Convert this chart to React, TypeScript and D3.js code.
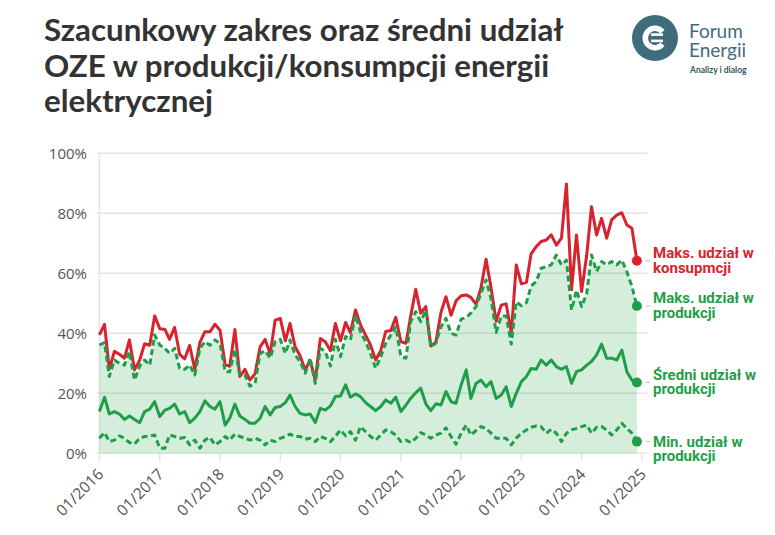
import React from "react";
import * as d3 from "d3";

const titleLines = [
  "Szacunkowy zakres oraz średni udział",
  "OZE w produkcji/konsumpcji energii",
  "elektrycznej",
];

const startMonth = new Date(2016, 0, 1);
const endMonth = new Date(2025, 0, 1);
const months = d3.timeMonth.range(startMonth, endMonth);
const yearTicks = d3.timeYear.range(startMonth, new Date(2025, 0, 2));
const yTicks = [0, 20, 40, 60, 80, 100];

const maxCons = [
  39.5, 43, 28, 34, 33, 31.7, 37.8, 27.8, 31, 36.5, 36, 45.8,
  41.5, 41.3, 38, 42, 33, 31.5, 36, 28, 37, 40.5, 40.5, 43,
  41, 29.5, 29, 41.3, 25.6, 28, 24.4, 26.5, 35.5, 38, 33, 44.4,
  45, 37.5, 43.3, 35.5, 32.5, 27.8, 31, 24.5, 38.3, 37.2, 34.2, 43.3,
  37.5, 43.6, 40.2, 47.8, 42.8, 39.4, 36.1, 31.1, 34.2, 40.6, 40.9, 45.3,
  37.2, 36.7, 45.6, 54.7, 46.7, 48.9, 35.8, 37, 47, 52.2, 46, 50.8,
  52.5, 52.8, 52, 49.7, 55, 64.7, 55.3, 44, 49.4, 49.8, 40, 62.8,
  56.5, 57, 66.5, 68.9, 70.6, 71.1, 72.8, 69.4, 71.7, 89.8, 54.5, 72.8,
  53.9, 66, 82.2, 72.8, 78.3, 71.7, 77.8, 79.4, 80.2, 76.1, 75, 64.2,
];

const maxProd = [
  36.1, 36.9, 25.6, 31.1, 30, 29.4, 33.9, 24.4, 29.1, 31.1, 29.4, 39.4,
  36.1, 35, 33.3, 35, 28.3, 28, 29.4, 26.1, 35, 37.2, 36, 37.8,
  36.7, 27.2, 27.2, 34.7, 26.1, 26.1, 22.4, 23.3, 33.3, 34.2, 31.7, 37.2,
  38, 33.3, 37.8, 32.8, 30.6, 26.7, 31.7, 23.3, 35, 33.9, 29.1, 38,
  32.2, 38.9, 37.8, 46.1, 40.6, 37.2, 33.3, 28.3, 32.2, 36.7, 39.4, 42.2,
  32.2, 31.7, 43.9, 47.2, 43.9, 47.8, 35.6, 36.7, 42.2, 45, 40, 39.4,
  44.7, 45.3, 46.7, 48.9, 53.3, 57.8, 51.6, 40.3, 45.8, 45.8, 36.4, 50.5,
  49.2, 50.3, 55.8, 57.2, 61.7, 62.2, 62.8, 66.1, 62.8, 64.4, 47.8, 54.4,
  48.9, 53.3, 66.1, 60.6, 63.9, 62.8, 63.9, 62.8, 64.4, 60.6, 55.6, 49.1,
];

const avgProd = [
  13.9, 18.7, 13.1, 13.9, 13.1, 11.3, 12.4, 11.3, 10.2, 13.9, 14.7, 17.2,
  12.2, 14.4, 15, 16.4, 13.1, 13.9, 10.2, 11.7, 13.9, 17.5, 15.6, 14.7,
  17.2, 9.4, 11.7, 16.4, 12.4, 11.3, 10, 10, 11.7, 15.6, 12.8, 15.3,
  15.6, 16.9, 19.4, 15.6, 13.3, 12.8, 13.1, 10.3, 15, 14.4, 15.8, 18.9,
  19.1, 22.8, 18.7, 19.8, 18.9, 16.9, 15.6, 14.2, 15.6, 17.8, 16.7, 18.7,
  13.9, 16.1, 18.3, 20.2, 21.7, 16.5, 14.2, 16.5, 16.1, 20.6, 17.2, 16.7,
  22.8, 27.8, 18.3, 23.3, 24.4, 22.2, 23.9, 18.3, 19.4, 22.2, 15.6, 20,
  23.9, 25.6, 28.3, 28, 31.1, 29.4, 31.1, 28.9, 28, 28.9, 23.3, 27.2,
  27.8, 29.4, 30.6, 32.8, 36.4, 31.7, 31.7, 31.1, 34.4, 27.2, 24.4, 23.6,
];

const minProd = [
  5, 6.9, 3.9, 4.4, 5.8, 5, 3.6, 3.1, 5, 5.6, 5.8, 6.1,
  1.7, 1.7, 6.1, 5.6, 5, 5.3, 2.8, 4.4, 1.7, 4.4, 5.3, 2.8,
  3.9, 5.6, 4.4, 6.4, 5.6, 5, 4.4, 5, 4.4, 2.8, 4.4, 3.9,
  5, 5.6, 6.4, 5.6, 5.6, 4.7, 5, 3.9, 5.6, 5, 3.9, 5.6,
  7.8, 5.8, 7.2, 4.4, 8.9, 7.2, 5.6, 4.4, 6.1, 7.8, 7.2, 6.1,
  3.9, 4.4, 3.6, 5, 6.9, 6.1, 5, 6.1, 6.7, 8.5, 5.6, 3,
  6.7, 9.4, 6.1, 7.6, 8.9, 8.3, 6.7, 5, 5, 5, 2.8, 5,
  6.7, 7.8, 8.7, 9.1, 8.9, 6.7, 8, 6.7, 3.9, 6.7, 7.8, 8.3,
  8.9, 9.4, 6.7, 8.7, 8.9, 7.8, 6.1, 7.8, 10, 8.3, 6.7, 3.9,
];

const RED = "#d8232f";
const GREEN = "#1f9e49";

const series = [
  { key: "maxCons", values: maxCons, color: RED, dash: null, label: ["Maks. udział w", "konsupmcji"], dy: -3 },
  { key: "maxProd", values: maxProd, color: GREEN, dash: "6 3.5", label: ["Maks. udział w", "produkcji"], dy: -3 },
  { key: "avgProd", values: avgProd, color: GREEN, dash: null, label: ["Średni udział w", "produkcji"], dy: -3 },
  { key: "minProd", values: minProd, color: GREEN, dash: "6 3.5", label: ["Min. udział w", "produkcji"], dy: 5 },
];

export default function App() {
  const W = 775;
  const H = 535;
  const x = d3.scaleTime().domain([startMonth, endMonth]).range([99.4, 642]);
  const y = d3.scaleLinear().domain([0, 100]).range([453.3, 153.3]);
  const gridLeft = 97;
  const gridRight = 647;

  const area = d3
    .area<number>()
    .x((_, i) => x(months[i]))
    .y0(() => y(0))
    .y1((d) => y(d));
  const line = d3
    .line<number>()
    .x((_, i) => x(months[i]))
    .y((d) => y(d));

  const fmt = d3.timeFormat("%m/%Y");
  const drawOrder = [3, 2, 0, 1];

  return (
    <svg width={W} height={H} style={{ position: "absolute", left: 0, top: 0, background: "#fff" }}>
      {/* title */}
      <g fontFamily="Lato, 'Open Sans', sans-serif" fontWeight={700} fontSize={31.3} fill="#333">
        {titleLines.map((t, i) => (
          <text key={i} x={44} y={41 + i * 35.5}>
            {t}
          </text>
        ))}
      </g>

      {/* logo */}
      <g>
        <circle cx={655} cy={38} r={23} fill="#3f6c7b" />
        <path
          d={d3.arc()({ innerRadius: 7, outerRadius: 12.5, startAngle: Math.PI * 0.22, endAngle: Math.PI * 1.78 }) || ""}
          transform="translate(655,38) rotate(90)"
          fill="#fff"
        />
        <rect x={651} y={33.3} width={12} height={2.6} fill="#fff" />
        <rect x={651} y={39.6} width={12} height={2.6} fill="#fff" />
        <g fontFamily="Lato, 'Open Sans', sans-serif" fill="#3f6c7b" fontSize={19}>
          <text x={689} y={38}>Forum</text>
          <text x={689} y={57}>Energii</text>
        </g>
        <text x={690} y={73} fontFamily="Lato, sans-serif" fontWeight={700} fontSize={8.5} fill="#2f5a5a">
          Analizy i dialog
        </text>
      </g>

      {/* grid */}
      {yTicks.map((t) => (
        <line key={t} x1={gridLeft} x2={gridRight} y1={y(t)} y2={y(t)} stroke="#e4e4e4" strokeWidth={1.5} />
      ))}
      <line x1={99.4} x2={99.4} y1={y(100)} y2={y(0)} stroke="#e4e4e4" strokeWidth={1.5} />
      {yearTicks.map((d, i) => (
        <line key={i} x1={x(d)} x2={x(d)} y1={y(0)} y2={y(0) + 8} stroke="#e4e4e4" strokeWidth={1.5} />
      ))}

      {/* y labels */}
      <g fontFamily="'Open Sans', sans-serif" fontSize={15} fill="#555" textAnchor="end">
        {yTicks.map((t) => (
          <text key={t} x={87} y={y(t) + 5.5}>
            {t}%
          </text>
        ))}
      </g>

      {/* x labels */}
      <g fontFamily="'Open Sans', sans-serif" fontSize={15.5} fill="#555" textAnchor="end">
        {yearTicks.map((d, i) => (
          <text key={i} transform={`translate(${x(d) + 5},${y(0) + 22}) rotate(-45)`}>
            {fmt(d)}
          </text>
        ))}
      </g>

      {/* area */}
      <path d={area(maxProd) || ""} fill="#2eaa50" fillOpacity={0.2} />

      {/* lines */}
      {drawOrder.map((si) => {
        const s = series[si];
        return (
          <path
            key={s.key}
            d={line(s.values) || ""}
            fill="none"
            stroke={s.color}
            strokeWidth={3}
            strokeDasharray={s.dash || undefined}
            strokeLinejoin="round"
          />
        );
      })}

      {/* end dots and labels */}
      {series.map((s) => {
        const lastI = s.values.length - 1;
        const cx = x(months[lastI]);
        const cy = y(s.values[lastI]);
        return (
          <g key={s.key}>
            <circle cx={cx} cy={cy} r={5} fill={s.color} />
            <line x1={cx + 9} x2={cx + 13} y1={cy} y2={cy} stroke="#bbb" strokeWidth={1} />
            <text
              x={653}
              y={cy + s.dy}
              fontFamily="Roboto, sans-serif"
              fontWeight={700}
              fontSize={15}
              fill={s.color}
            >
              <tspan x={653}>{s.label[0]}</tspan>
              <tspan x={653} dy={14.8}>
                {s.label[1]}
              </tspan>
            </text>
          </g>
        );
      })}
    </svg>
  );
}
